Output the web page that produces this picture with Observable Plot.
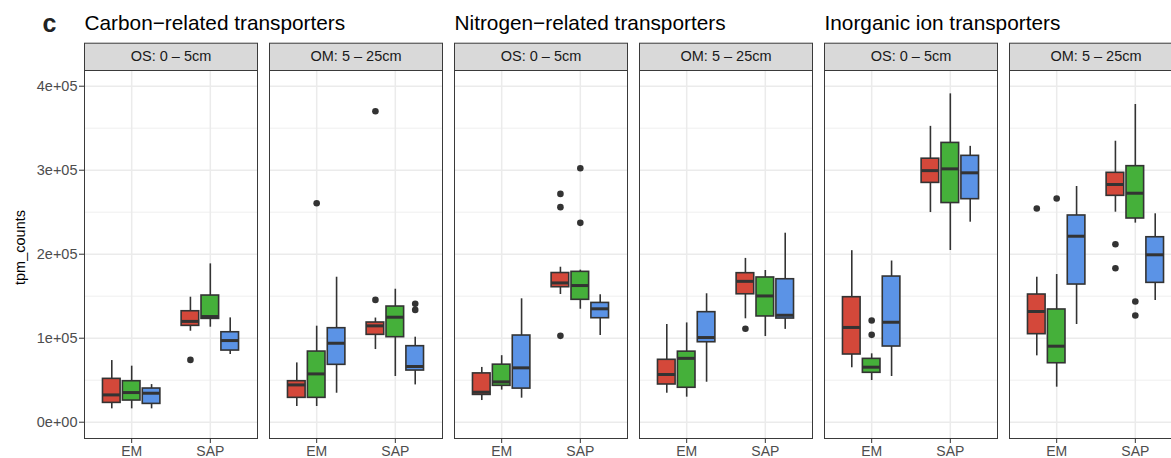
<!DOCTYPE html>
<html><head><meta charset="utf-8">
<script src="https://cdn.jsdelivr.net/npm/d3@7"></script>
<script src="https://cdn.jsdelivr.net/npm/@observablehq/plot@0.6"></script>
<style>
html,body{margin:0;padding:0;background:#fff;overflow:hidden}
#chart{width:1171px;height:458px;overflow:hidden;position:relative}
</style></head><body><div id="chart"></div>
<script>
// ---------- data ----------
const panels = ["Carbon OS", "Carbon OM", "Nitrogen OS", "Nitrogen OM", "Inorganic OS", "Inorganic OM"];
const stripLabels = ["OS: 0 – 5cm", "OM: 5 – 25cm", "OS: 0 – 5cm", "OM: 5 – 25cm", "OS: 0 – 5cm", "OM: 5 – 25cm"];
const groupTitles = ["Carbon−related transporters", "Nitrogen−related transporters", "Inorganic ion transporters"];
const groupFirstPanel = ["Carbon OS", "Nitrogen OS", "Inorganic OS"];
const categories = ["EM", "SAP"];
const series = ["group 1", "group 2", "group 3"];
const seriesColors = ["#d4483a", "#45b03a", "#5b93e6"];
const yTicks = [0, 100000, 200000, 300000, 400000];
const yTickLabels = ["0e+00", "1e+05", "2e+05", "3e+05", "4e+05"];
const yMinorTicks = [50000, 150000, 250000, 350000];

// box stats per panel: order EM(s1,s2,s3), SAP(s1,s2,s3); each [lowWhisker, q1, median, q3, highWhisker]
const carbonOS = [
  [15900, 23000, 32500, 51600, 73400],
  [15900, 25800, 35300, 48800, 66700],
  [15900, 21800, 34500, 40100, 44800],
  [108300, 114700, 120000, 132100, 148800],
  [113100, 123000, 125800, 150800, 188500],
  [80600, 85300, 97200, 107100, 124200]
];
const carbonOM = [
  [18700, 29000, 44400, 48800, 70600],
  [18700, 29000, 57500, 84100, 114300],
  [34500, 68300, 94000, 111900, 172600],
  [86500, 104000, 114700, 118700, 124000],
  [54400, 101200, 125000, 137700, 158300],
  [44400, 61500, 66300, 90500, 101200]
];
const nitrogenOS = [
  [25800, 32500, 35700, 58100, 65200],
  [38200, 43300, 48000, 68500, 79200],
  [28600, 40000, 64700, 103200, 146900],
  [152000, 160700, 165800, 177600, 184500],
  [134500, 145700, 162700, 179000, 181000],
  [103200, 123800, 135000, 142000, 151700]
];
const nitrogenOM = [
  [34500, 44900, 56800, 74300, 116300],
  [29800, 41000, 76000, 84000, 118200],
  [47600, 95200, 100800, 131000, 152900],
  [123100, 152300, 167700, 177400, 195000],
  [102000, 125900, 150300, 172300, 180600],
  [110500, 123400, 127300, 170200, 225000]
];
const inorganicOS = [
  [64800, 80600, 112800, 148800, 204200],
  [49600, 58800, 65500, 75400, 81400],
  [54400, 90100, 119000, 173400, 191900],
  [249600, 284900, 299500, 313700, 352200],
  [204400, 260900, 301600, 332500, 390900],
  [238100, 265500, 296900, 317100, 328400]
];
const inorganicOM = [
  [79000, 104800, 131800, 152000, 172600],
  [41700, 70200, 90500, 134200, 175800],
  [116300, 163900, 221400, 246100, 280600],
  [250000, 269500, 283000, 296900, 334500],
  [237000, 242500, 272600, 304800, 378200],
  [144900, 165900, 199300, 220200, 248100]
];
const panelStats = [carbonOS, carbonOM, nitrogenOS, nitrogenOM, inorganicOS, inorganicOM];

// outliers per panel: [category index, series index, value]
const carbonOSOutliers = [[1, 0, 74200]];
const carbonOMOutliers = [[0, 1, 260700], [1, 0, 145600], [1, 0, 370200], [1, 2, 140900], [1, 2, 133700]];
const nitrogenOSOutliers = [[1, 0, 271800], [1, 0, 256000], [1, 0, 102800], [1, 1, 302400], [1, 1, 237300]];
const nitrogenOMOutliers = [[1, 0, 111200]];
const inorganicOSOutliers = [[0, 1, 121100], [0, 1, 104000]];
const inorganicOMOutliers = [[0, 0, 254400], [0, 1, 266300], [1, 0, 211900], [1, 0, 183300], [1, 1, 143700], [1, 1, 127000]];
const panelOutliers = [carbonOSOutliers, carbonOMOutliers, nitrogenOSOutliers, nitrogenOMOutliers, inorganicOSOutliers, inorganicOMOutliers];

// ---------- build tables ----------
const dodge = 0.253, halfW = 0.112;
const boxes = [];
panelStats.forEach((stats, p) => {
  stats.forEach((s, j) => {
    const cat = Math.floor(j / 3), ser = j % 3;
    const xc = cat + 1 + (ser - 1) * dodge;
    boxes.push({panel: panels[p], series: series[ser], xc, x1: xc - halfW, x2: xc + halfW,
      lo: s[0], q1: s[1], med: s[2], q3: s[3], hi: s[4]});
  });
});
const outliers = [];
panelOutliers.forEach((list, p) => {
  list.forEach(([cat, ser, v]) => outliers.push({panel: panels[p], x: cat + 1 + (ser - 1) * dodge, y: v}));
});

const W = 1185, H = 458, mTop = 70, mBottom = 20, mLeft = 82;
const panelH = H - mTop - mBottom;
const font = "'Liberation Sans', Arial, Helvetica, sans-serif";

const chart = Plot.plot({
  width: W, height: H,
  marginTop: mTop, marginBottom: mBottom, marginLeft: mLeft, marginRight: 0,
  style: {fontFamily: font, maxWidth: "none", background: "#fff", overflow: "visible"},
  fx: {domain: panels, paddingInner: 0.0646, paddingOuter: 0, axis: null, label: null},
  x: {domain: [0.4, 2.6], axis: null},
  y: {domain: [-19400, 418700], axis: null},
  color: {domain: series, range: seriesColors},
  marks: [
    Plot.ruleY(yMinorTicks, {stroke: "#ebebeb", strokeWidth: 0.8}),
    Plot.ruleY(yTicks, {stroke: "#ebebeb", strokeWidth: 1.5}),
    Plot.ruleX([1, 2], {stroke: "#ebebeb", strokeWidth: 1.5}),
    Plot.ruleX(boxes, {fx: "panel", x: "xc", y1: "lo", y2: "q1", stroke: "#333", strokeWidth: 1.6}),
    Plot.ruleX(boxes, {fx: "panel", x: "xc", y1: "q3", y2: "hi", stroke: "#333", strokeWidth: 1.6}),
    Plot.rect(boxes, {fx: "panel", x1: "x1", x2: "x2", y1: "q1", y2: "q3", fill: "series", stroke: "#333", strokeWidth: 1.6}),
    Plot.ruleY(boxes, {fx: "panel", y: "med", x1: "x1", x2: "x2", stroke: "#333", strokeWidth: 3}),
    Plot.dot(outliers, {fx: "panel", x: "x", y: "y", r: 3.3, fill: "#333", stroke: "none"}),
    Plot.frame({stroke: "#3a3a3a", strokeWidth: 1}),
    Plot.frame({fill: "#d9d9d9", stroke: "#3a3a3a", strokeWidth: 1, insetTop: -27.3, insetBottom: panelH}),
    Plot.text(panels, {fx: d => d, text: (d, i) => stripLabels[i], frameAnchor: "top", dy: -13.7,
      fontSize: 14.5, fill: "#1a1a1a", lineAnchor: "middle"}),
    Plot.text(groupTitles, {fx: (d, i) => groupFirstPanel[i], text: d => d, frameAnchor: "top-left",
      textAnchor: "start", lineAnchor: "middle", dy: -47.5, fontSize: 20.8, fill: "#000"}),
    Plot.text(["c"], {fx: () => panels[0], text: d => d, frameAnchor: "top-left", textAnchor: "middle",
      lineAnchor: "middle", dx: -35, dy: -46.5, fontSize: 25, fontWeight: "bold", fill: "#222"}),
    Plot.text(["tpm_counts"], {fx: () => panels[0], text: d => d, frameAnchor: "left", rotate: -90,
      textAnchor: "middle", lineAnchor: "middle", dx: -64, dy: -7, fontSize: 14.5, fill: "#000"}),
    Plot.axisY(yTicks, {tickFormat: d => yTickLabels[yTicks.indexOf(d)], tickSize: 5, tickPadding: 2,
      fontSize: 14.5, color: "#4d4d4d", stroke: "#333", label: null}),
    Plot.axisX([1, 2], {tickFormat: d => categories[d - 1], tickSize: 5, tickPadding: 3,
      fontSize: 14, color: "#4d4d4d", stroke: "#333", label: null})
  ]
});
document.getElementById("chart").appendChild(chart);
</script></body></html>
